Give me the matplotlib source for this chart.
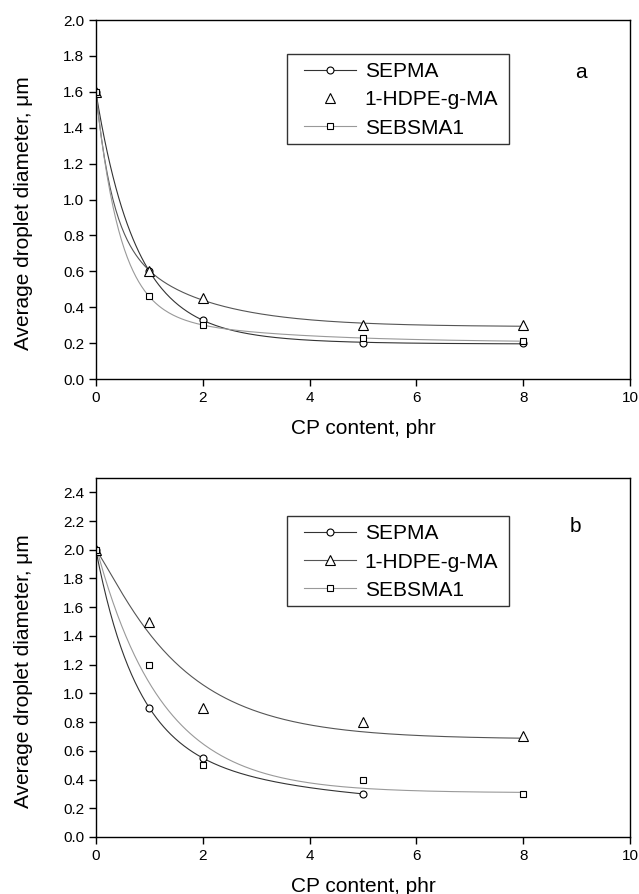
import numpy as np
import matplotlib
matplotlib.use("Agg")
import matplotlib.pyplot as plt
from matplotlib.patches import Rectangle

plt.rcParams['font.family'] = ['Liberation Sans', 'DejaVu Sans']

# CP content (phr)
x_a = [0, 1, 2, 5, 8]
sepma_a = [1.6, 0.6, 0.33, 0.2, 0.2]
hdpe_a = [1.6, 0.6, 0.45, 0.3, 0.3]
sebsma_a = [1.6, 0.46, 0.3, 0.23, 0.21]

x_b_sepma = [0, 1, 2, 5]
sepma_b = [2.0, 0.9, 0.55, 0.3]
x_b = [0, 1, 2, 5, 8]
hdpe_b = [2.0, 1.5, 0.9, 0.8, 0.7]
sebsma_b = [2.0, 1.2, 0.5, 0.4, 0.3]

labels = ['SEPMA', '1-HDPE-g-MA', 'SEBSMA1']


def decay_fit(x, y):
    # two-term exponential decay, y = y0 + A1*exp(-x/t1) + A2*exp(-x/t2)
    x = np.asarray(x, float)
    y = np.asarray(y, float)
    best = None
    for t1 in np.linspace(0.3, 1.2, 19):
        for t2 in np.linspace(1.5, 5, 15):
            M = np.column_stack([np.ones_like(x), np.exp(-x / t1), np.exp(-x / t2)])
            coef = np.linalg.lstsq(M, y, rcond=None)[0]
            err = np.sum((M @ coef - y) ** 2)
            if best is None or err < best[0]:
                best = (err, coef, t1, t2)
    _, c, t1, t2 = best
    xs = np.linspace(x.min(), x.max(), 300)
    return xs, c[0] + c[1] * np.exp(-xs / t1) + c[2] * np.exp(-xs / t2)


fig = plt.figure(figsize=(6.39, 8.94), dpi=100)
ax1 = fig.add_axes([0.150, 0.576, 0.836, 0.4016])
ax2 = fig.add_axes([0.150, 0.0638, 0.836, 0.4016])

mk = dict(markerfacecolor='white', markeredgecolor='black', markeredgewidth=0.8)


def panel(ax, series, ylim, yticks, letter, hdpe_line, letter_pos):
    colors = ['#333333', '#555555', '#999999']
    markers = ['o', '^', 's']
    sizes = [5, 6.5, 5]
    for i, (xx, yy) in enumerate(series):
        xs, ys = decay_fit(xx, yy)
        ax.plot(xs, ys, color=colors[i], lw=0.8, zorder=1)
        show_line = (i != 1) or hdpe_line
        ax.plot(xx, yy, ls='none', marker=markers[i], markersize=sizes[i], zorder=2, **mk)
        ax.plot([], [], color=colors[i] if show_line else 'none', lw=0.8,
                marker=markers[i], markersize=sizes[i], label=labels[i], **mk)
    ax.set_xlim(0, 10)
    ax.set_ylim(*ylim)
    ax.set_xticks([0, 2, 4, 6, 8, 10])
    ax.set_yticks(yticks)
    ax.set_yticklabels([f"{v:.1f}" for v in yticks])
    ax.tick_params(direction='out', length=5, width=1, labelsize=11)
    for s in ax.spines.values():
        s.set_linewidth(1)
    ax.set_xlabel('CP content, phr', fontsize=15, labelpad=10)
    ax.set_ylabel('Average droplet diameter, μm', fontsize=15)
    ax.yaxis.set_label_coords(-0.118, 0.462)

    # legend frame drawn separately so the padding can match
    box_bottom = 0.655 if letter == 'a' else 0.643
    ax.add_patch(Rectangle((0.358, box_bottom), 0.415, 0.25, transform=ax.transAxes,
                           fill=False, edgecolor='#333333', lw=1.0, zorder=5))
    ax.legend(loc='upper left', bbox_to_anchor=(0.358, box_bottom + 0.25 + 0.025),
              fontsize=15, frameon=False, handlelength=2.5, handletextpad=0.4,
              borderpad=0.82, borderaxespad=0, labelspacing=0.44)
    ax.text(letter_pos[0], letter_pos[1], letter, transform=ax.transAxes,
            fontsize=15, ha='center', va='center')


panel(ax1, [(x_a, sepma_a), (x_a, hdpe_a), (x_a, sebsma_a)], (0, 2.0),
      np.round(np.arange(0, 2.01, 0.2), 1), 'a', False, (0.908, 0.855))
panel(ax2, [(x_b_sepma, sepma_b), (x_b, hdpe_b), (x_b, sebsma_b)], (0, 2.5),
      np.round(np.arange(0, 2.41, 0.2), 1), 'b', True, (0.897, 0.864))

fig.savefig('out.png', dpi=100)
